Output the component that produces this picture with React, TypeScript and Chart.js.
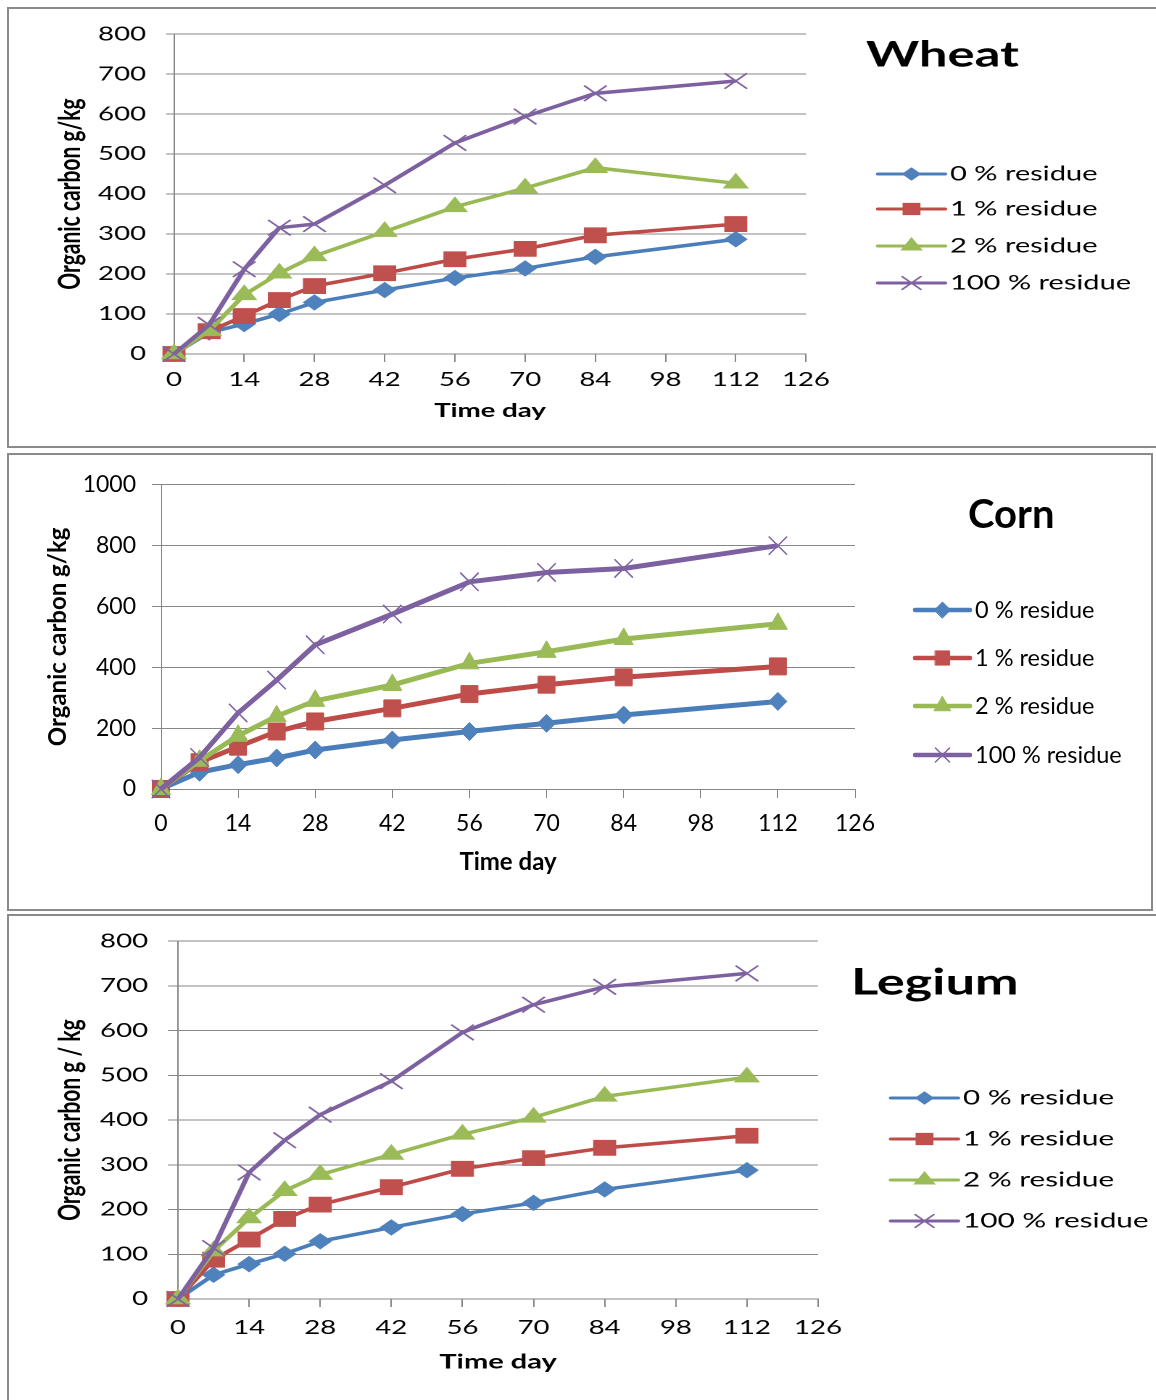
import React, { useEffect, useRef } from 'react';
import { Chart, registerables } from 'chart.js';
import { drawPoint } from 'chart.js/helpers';

Chart.register(...registerables);

// ---------- data ----------
const DAYS = [0, 7, 14, 21, 28, 42, 56, 70, 84, 112];
const X_TICK_STEP = 14;
const X_MAX = 126;
const SERIES_LABELS = ['0 % residue', '1 % residue', '2 % residue', '100 % residue'];

const WHEAT_0 = [0, 54, 75, 100, 129, 160, 190, 214, 243, 287];
const WHEAT_1 = [0, 57, 95, 135, 170, 202, 237, 263, 297, 325];
const WHEAT_2 = [0, 58, 148, 202, 245, 306, 368, 415, 466, 427];
const WHEAT_100 = [0, 73, 212, 316, 325, 422, 528, 594, 652, 683];

const CORN_0 = [0, 55, 80, 102, 128, 161, 189, 216, 243, 288];
const CORN_1 = [0, 88, 139, 189, 222, 265, 312, 343, 367, 403];
const CORN_2 = [0, 93, 175, 239, 290, 342, 413, 451, 493, 543];
const CORN_100 = [0, 104, 250, 358, 474, 575, 681, 712, 725, 800];

const LEGIUM_0 = [0, 54, 78, 101, 129, 160, 190, 215, 245, 288];
const LEGIUM_1 = [0, 88, 133, 179, 211, 250, 291, 315, 338, 365];
const LEGIUM_2 = [0, 107, 181, 242, 278, 323, 368, 406, 453, 496];
const LEGIUM_100 = [0, 114, 283, 355, 412, 487, 596, 658, 698, 728];

const WHEAT_Y = [0, 800, 100]; // min, max, step
const CORN_Y = [0, 1000, 200];
const LEGIUM_Y = [0, 800, 100];

// ---------- styles ----------
const LINE_COLORS = ['#4A7EBB', '#BE4B48', '#98B954', '#7D60A0'];
const MARKER_COLORS = ['#4F81BD', '#C0504D', '#9BBB59', '#8064A2'];
const POINT_STYLES = ['rectRot', 'rect', 'triangle', 'crossRot'];
const GRID = '#868686';
const FONT = 'Lato, "Open Sans", "DejaVu Sans", sans-serif';
const BW = 2;

Chart.defaults.font.family = FONT;
Chart.defaults.color = '#000';

type PanelCfg = {
  title: string;
  yTitle: string;
  yRange: number[];
  series: number[][];
  box: number[]; // left, top, width, height (page px)
  s: number;
  dpr: number;
  area: number[]; // left, right, top, bottom (page px)
  yLabelRight: number;
  yTickLen: number;
  xTickLen: number;
  xLabelY: number;
  xTitleY: number;
  yTitleX: number;
  fonts: { tick: number; legend: number; title: number; xTitle: number; yTitle: number };
  legendYs: number[];
  legendX0: number;
  legendX1: number;
  legendTextX: number;
  titleX: number;
  titleY: number;
  lineWidth: number;
  legendLineWidth: number;
  radii: number[];
  legendRadii: number[];
};

const PANELS: PanelCfg[] = [
  {
    title: 'Wheat',
    yTitle: 'Organic carbon g/kg',
    yRange: WHEAT_Y,
    series: [WHEAT_0, WHEAT_1, WHEAT_2, WHEAT_100],
    box: [7, 7, 1154, 441],
    s: 1.45,
    dpr: 2,
    area: [174, 806, 32, 354],
    yLabelRight: 146,
    yTickLen: 8,
    xTickLen: 8,
    xLabelY: 380,
    xTitleY: 411,
    yTitleX: 70,
    fonts: { tick: 19, legend: 20, title: 35, xTitle: 19, yTitle: 21 },
    legendYs: [174, 209, 246, 283],
    legendX0: 878,
    legendX1: 945,
    legendTextX: 950,
    titleX: 866,
    titleY: 55,
    lineWidth: 3.5,
    legendLineWidth: 3,
    radii: [7.5, 10.5, 9.5, 11],
    legendRadii: [6, 8, 8, 9],
  },
  {
    title: 'Corn',
    yTitle: 'Organic carbon g/kg',
    yRange: CORN_Y,
    series: [CORN_0, CORN_1, CORN_2, CORN_100],
    box: [7, 453, 1146, 458],
    s: 1,
    dpr: 1,
    area: [161, 855, 484, 789],
    yLabelRight: 136,
    yTickLen: 9,
    xTickLen: 9,
    xLabelY: 824,
    xTitleY: 862,
    yTitleX: 58,
    fonts: { tick: 23, legend: 23.5, title: 40, xTitle: 24, yTitle: 24 },
    legendYs: [610, 658, 706, 755],
    legendX0: 915,
    legendX1: 970,
    legendTextX: 975,
    titleX: 968,
    titleY: 515,
    lineWidth: 5,
    legendLineWidth: 4.5,
    radii: [9, 12, 11, 13],
    legendRadii: [8, 10, 9.5, 10],
  },
  {
    title: 'Legium',
    yTitle: 'Organic carbon g / kg',
    yRange: LEGIUM_Y,
    series: [LEGIUM_0, LEGIUM_1, LEGIUM_2, LEGIUM_100],
    box: [7, 914, 1154, 500],
    s: 1.45,
    dpr: 2,
    area: [178, 818, 941, 1299],
    yLabelRight: 148,
    yTickLen: 10,
    xTickLen: 8,
    xLabelY: 1328,
    xTitleY: 1362,
    yTitleX: 70,
    fonts: { tick: 19, legend: 20.5, title: 36, xTitle: 20, yTitle: 21 },
    legendYs: [1098, 1139, 1180, 1221],
    legendX0: 891,
    legendX1: 958,
    legendTextX: 963,
    titleX: 851,
    titleY: 983,
    lineWidth: 3.5,
    legendLineWidth: 3,
    radii: [7.5, 10.5, 9.5, 11],
    legendRadii: [6, 8, 8, 9],
  },
];

function Panel({ cfg }: { cfg: PanelCfg }) {
  const ref = useRef<HTMLCanvasElement>(null);
  const [bl, bt, bw, bh] = cfg.box;
  const innerW = bw - 2 * BW;
  const innerH = bh - 2 * BW;
  const cw = Math.round(innerW / cfg.s);
  const ch = innerH;

  useEffect(() => {
    if (!ref.current) return;
    const ox = bl + BW;
    const oy = bt + BW;
    const lx = (X: number) => (X - ox) / cfg.s;
    const ly = (Y: number) => Y - oy;
    const f = cfg.fonts;

    const L = lx(cfg.area[0]);
    const R = lx(cfg.area[1]);
    const T = ly(cfg.area[2]);
    const B = ly(cfg.area[3]);

    const lhTick = f.tick * 1.2;
    const lhX = f.xTitle * 1.2;
    const lhY = f.yTitle * 1.2;
    const xTitlePadBottom = 4;
    const xAxisH = ly(cfg.xTitleY) - B + lhX / 2 + xTitlePadBottom;
    const xTickPad = ly(cfg.xLabelY) - B - cfg.xTickLen - lhTick / 2;
    const yTl = cfg.yTickLen / cfg.s;
    const yTickPad = L - yTl - lx(cfg.yLabelRight);
    const yTitlePad = lx(cfg.yTitleX) - lhY / 2;
    const bottomPad = ch - B - xAxisH;

    const overlay = {
      id: 'overlay',
      afterDraw(chart: any) {
        const ctx = chart.ctx as CanvasRenderingContext2D;
        ctx.save();
        ctx.textBaseline = 'middle';
        ctx.textAlign = 'left';
        ctx.fillStyle = '#000';
        ctx.font = `bold ${f.title}px ${FONT}`;
        ctx.fillText(cfg.title, lx(cfg.titleX), ly(cfg.titleY));
        const x0 = lx(cfg.legendX0);
        const x1 = lx(cfg.legendX1);
        chart.data.datasets.forEach((ds: any, i: number) => {
          const y = ly(cfg.legendYs[i]);
          ctx.strokeStyle = LINE_COLORS[i];
          ctx.lineWidth = cfg.legendLineWidth;
          ctx.lineCap = 'round';
          ctx.beginPath();
          ctx.moveTo(x0, y);
          ctx.lineTo(x1, y);
          ctx.stroke();
          ctx.fillStyle = MARKER_COLORS[i];
          ctx.strokeStyle = MARKER_COLORS[i];
          const bwid = i === 3 ? 1.5 : 1;
          ctx.lineWidth = bwid;
          drawPoint(
            ctx,
            { pointStyle: POINT_STYLES[i] as any, rotation: 0, radius: cfg.legendRadii[i], borderWidth: bwid } as any,
            (x0 + x1) / 2,
            y
          );
          ctx.fillStyle = '#000';
          ctx.font = `${f.legend}px ${FONT}`;
          ctx.fillText(ds.label, lx(cfg.legendTextX), y);
        });
        ctx.restore();
      },
    };

    const datasets = cfg.series.map((vals, i) => ({
      label: SERIES_LABELS[i],
      data: DAYS.map((d, k) => ({ x: d, y: vals[k] })),
      borderColor: LINE_COLORS[i],
      backgroundColor: MARKER_COLORS[i],
      borderWidth: cfg.lineWidth,
      pointStyle: POINT_STYLES[i],
      pointRadius: cfg.radii[i],
      pointBackgroundColor: MARKER_COLORS[i],
      pointBorderColor: MARKER_COLORS[i],
      pointBorderWidth: i === 3 ? 1.5 : 1,
      tension: 0,
      clip: false as any,
      order: 3 - i,
    }));

    const chart = new Chart(ref.current, {
      type: 'line',
      data: { datasets },
      options: {
        responsive: false,
        animation: false,
        devicePixelRatio: cfg.dpr,
        events: [],
        layout: { padding: { left: 0, top: T, right: cw - R, bottom: bottomPad } },
        plugins: {
          legend: { display: false },
          tooltip: { enabled: false },
          title: { display: false },
        },
        scales: {
          x: {
            type: 'linear',
            min: 0,
            max: X_MAX,
            afterFit: (sc: any) => {
              sc.height = xAxisH;
            },
            ticks: {
              stepSize: X_TICK_STEP,
              autoSkip: false,
              maxRotation: 0,
              padding: xTickPad,
              color: '#000',
              font: { size: f.tick },
              callback: (v: any) => String(v),
            },
            grid: {
              drawOnChartArea: false,
              drawTicks: true,
              tickLength: cfg.xTickLen,
              color: GRID,
              lineWidth: 1,
            },
            border: { display: true, color: GRID, width: 1 },
            title: {
              display: true,
              text: 'Time day',
              color: '#000',
              font: { size: f.xTitle, weight: 'bold' },
              padding: { top: 0, bottom: xTitlePadBottom },
            },
          },
          y: {
            type: 'linear',
            min: cfg.yRange[0],
            max: cfg.yRange[1],
            afterFit: (sc: any) => {
              sc.width = L;
            },
            ticks: {
              stepSize: cfg.yRange[2],
              padding: yTickPad,
              color: '#000',
              font: { size: f.tick },
              callback: (v: any) => String(v),
            },
            grid: { color: GRID, lineWidth: 1, drawTicks: true, tickLength: yTl },
            border: { display: true, color: GRID, width: 1 },
            title: {
              display: true,
              text: cfg.yTitle,
              color: '#000',
              font: { size: f.yTitle, weight: 'bold' },
              padding: { top: yTitlePad, bottom: 0 },
            },
          },
        },
      } as any,
      plugins: [overlay as any],
    });
    return () => chart.destroy();
  }, []);

  return (
    <div
      style={{
        position: 'absolute',
        left: bl,
        top: bt,
        width: bw,
        height: bh,
        border: `${BW}px solid #8a8a8a`,
        boxSizing: 'border-box',
        overflow: 'hidden',
        background: '#fff',
      }}
    >
      <div
        style={{
          position: 'absolute',
          left: 0,
          top: 0,
          width: cw,
          height: ch,
          transform: `scaleX(${cfg.s})`,
          transformOrigin: '0 0',
        }}
      >
        <canvas ref={ref} width={cw} height={ch} style={{ display: 'block', width: cw, height: ch }} />
      </div>
    </div>
  );
}

export default function App() {
  return (
    <div
      style={{
        position: 'absolute',
        left: 0,
        top: 0,
        width: 1156,
        height: 1400,
        overflow: 'hidden',
        background: '#fff',
      }}
    >
      {PANELS.map((p) => (
        <Panel key={p.title} cfg={p} />
      ))}
    </div>
  );
}
